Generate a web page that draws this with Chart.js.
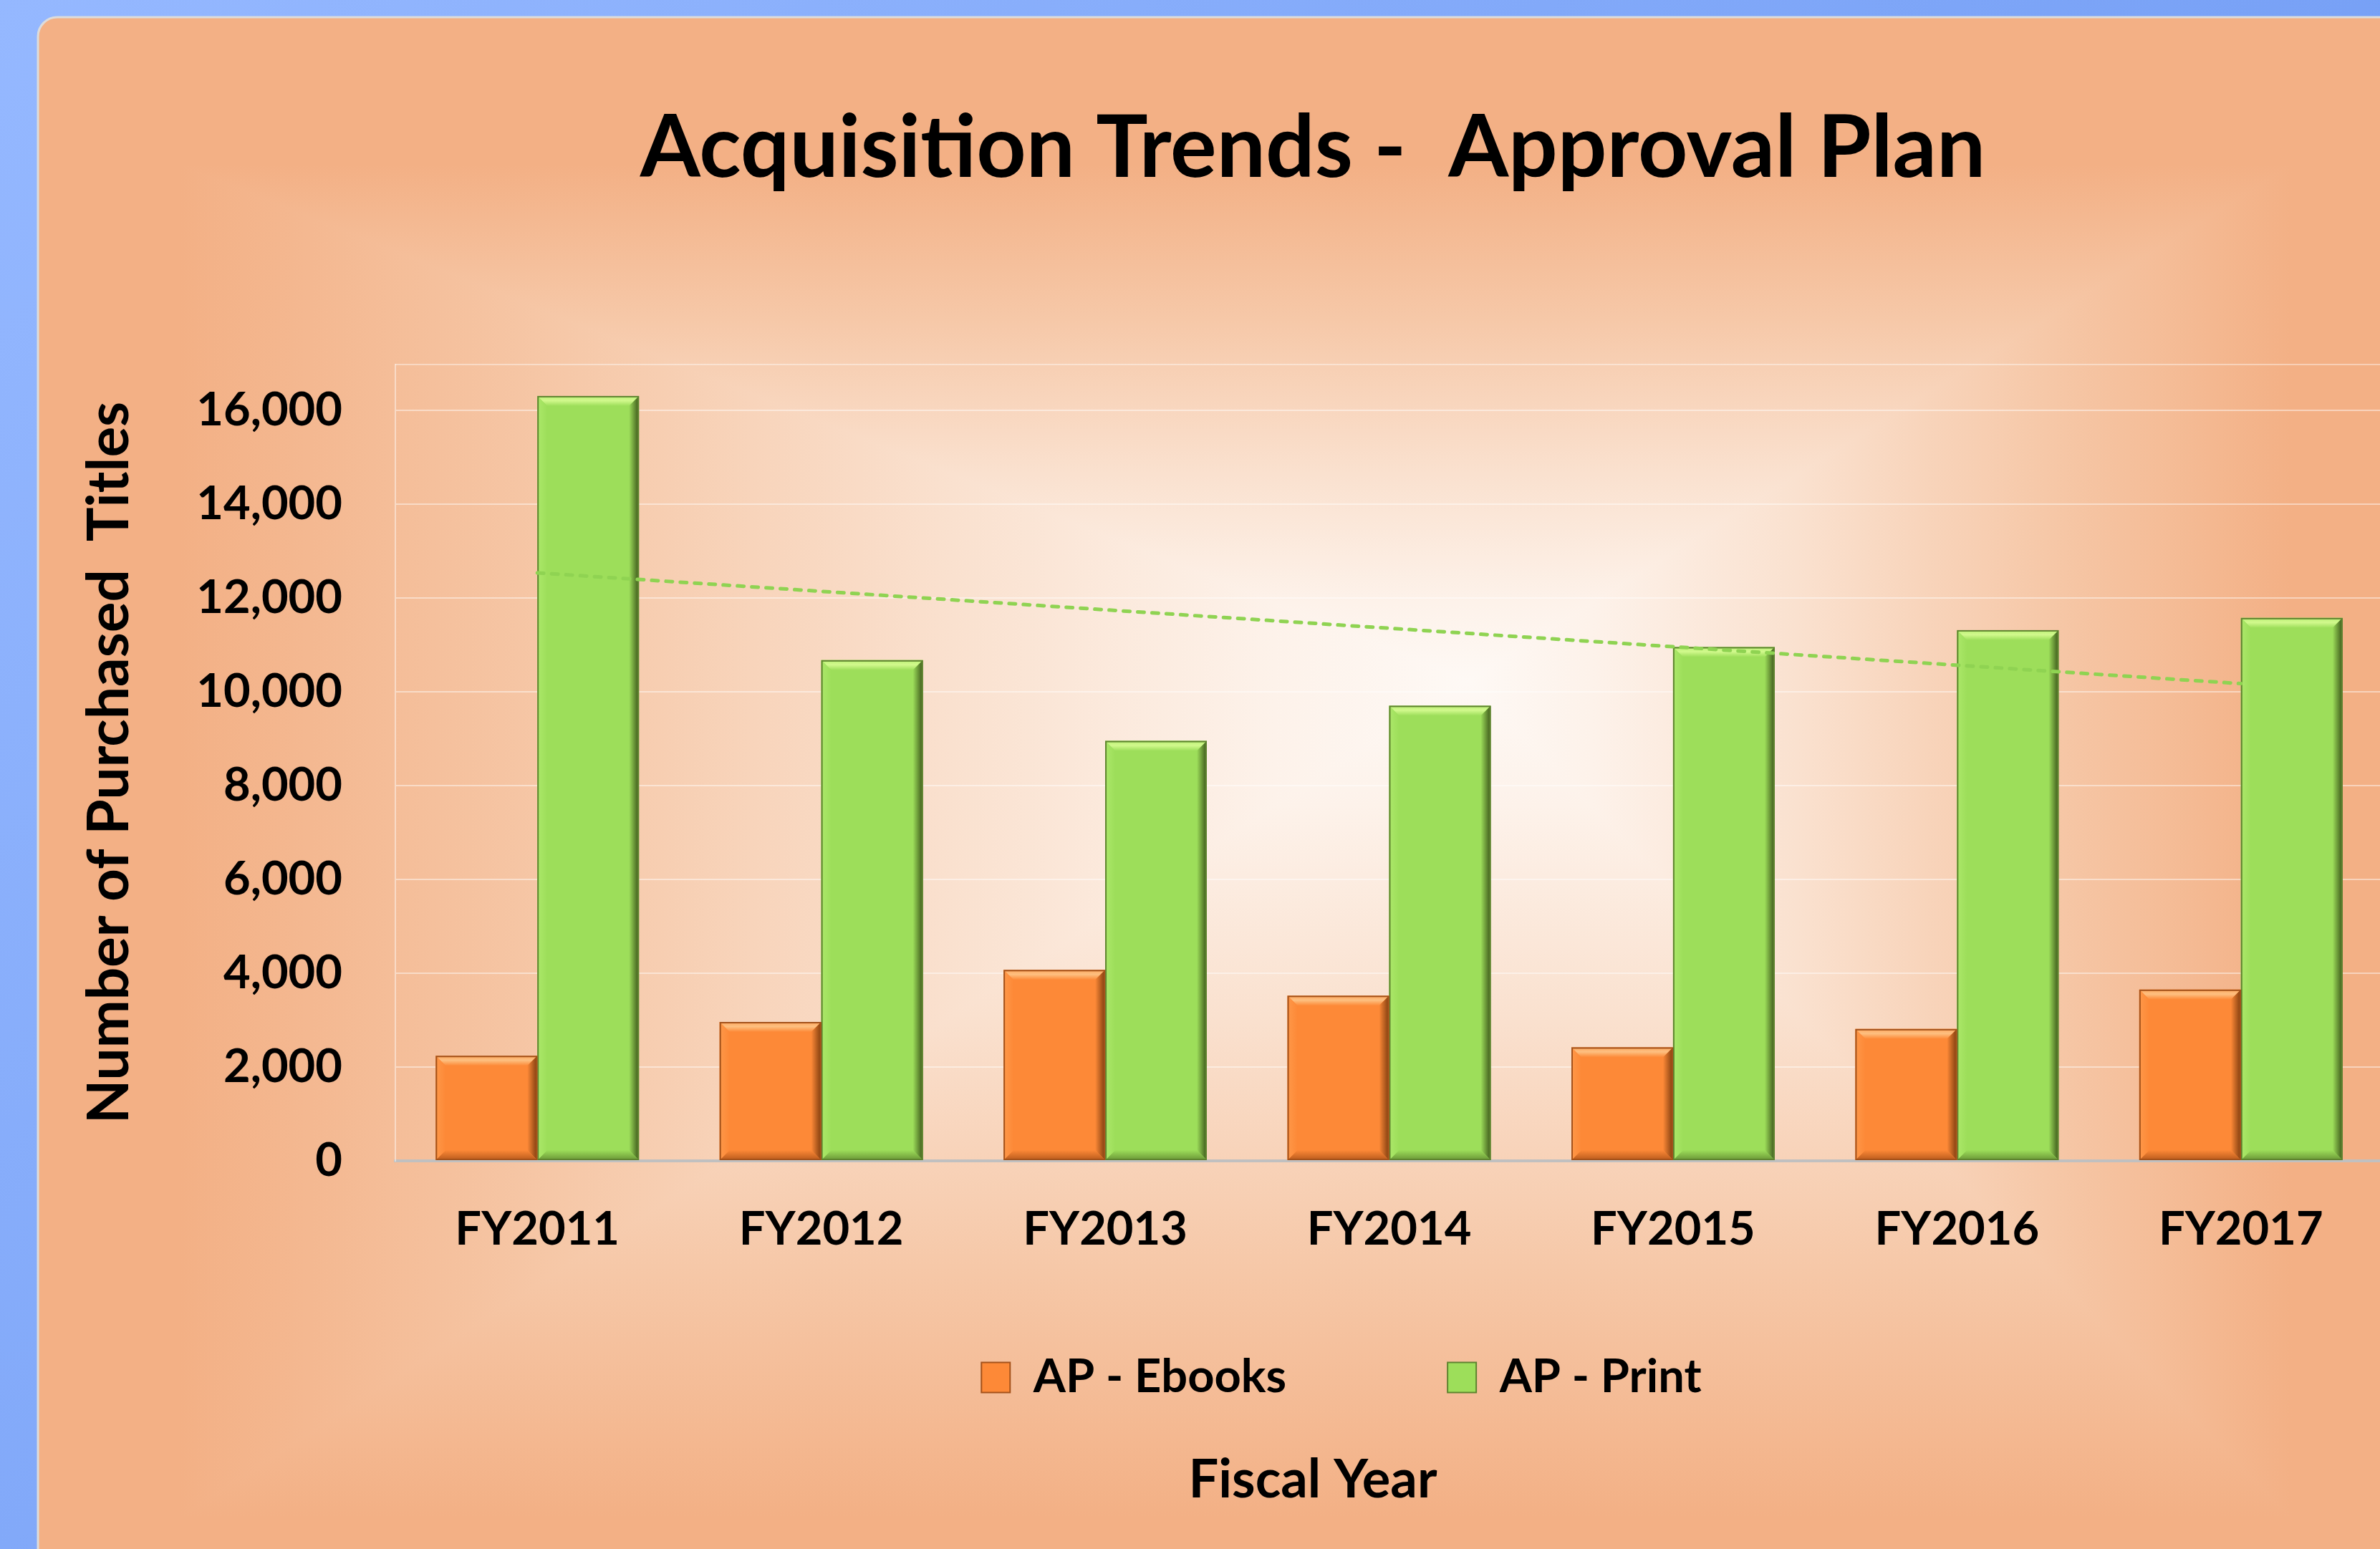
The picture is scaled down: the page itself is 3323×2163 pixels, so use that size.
<!DOCTYPE html>
<html>
<head>
<meta charset="utf-8">
<script src="https://cdn.jsdelivr.net/npm/chart.js@4.4.0/dist/chart.umd.min.js"></script>
<style>
  html, body { margin: 0; padding: 0; overflow: hidden; background: #86aefc; }
  #wrap { position: absolute; left: 0; top: 0; width: 3613px; height: 2163px; }
</style>
</head>
<body>
<div id="wrap"><canvas id="myChart" width="3613" height="2163"></canvas></div>
<script>
// Data
const years = ['FY2011', 'FY2012', 'FY2013', 'FY2014', 'FY2015', 'FY2016', 'FY2017'];
const ebooks = [2240, 2960, 4070, 3520, 2420, 2810, 3650];
const print = [16300, 10670, 8950, 9700, 10950, 11310, 11570];
// linear trendline of the print series (ends)
const printTrend = [12530, null, null, null, null, null, 10170];
const yTicks = [0, 2000, 4000, 6000, 8000, 10000, 12000, 14000, 16000];

const tones = [
    { fill: '#fd8937', light: '#fdc081', hi: '#fea65c', dark: '#7e3c0e', shade: '#b85a1c', edge: '#fe9849', line: '#a4521b' },
    { fill: '#9dde5a', light: '#d2f98d', hi: '#b9ef74', dark: '#3b5519', shade: '#6a9637', edge: '#ace86a', line: '#5e842f' },
];

Chart.defaults.font.family = 'Lato';
Chart.defaults.font.weight = 'bold';
Chart.defaults.color = '#000';

function poly(ctx, pts, fill) {
    ctx.beginPath();
    ctx.moveTo(pts[0][0], pts[0][1]);
    for (let i = 1; i < pts.length; i++) ctx.lineTo(pts[i][0], pts[i][1]);
    ctx.closePath();
    ctx.fillStyle = fill;
    ctx.fill();
}

// rectangular "from centre" gradient, like the office fill
function rectGlow(ctx, cx, cy, x0, y0, x1, y1) {
    const stops = [[0, '#fef9f5'], [0.15, '#fdf2ea'], [0.4, '#fae1cf'], [0.7, '#f6c8a8'], [1, '#f3b085']];
    const sides = [
        [[x0, y0], [x1, y0], cx, y0],
        [[x1, y0], [x1, y1], x1, cy],
        [[x1, y1], [x0, y1], cx, y1],
        [[x0, y1], [x0, y0], x0, cy],
    ];
    sides.forEach(([a, b, ex, ey]) => {
        const g = ctx.createLinearGradient(cx, cy, ex, ey);
        stops.forEach(s => g.addColorStop(s[0], s[1]));
        ctx.beginPath();
        ctx.moveTo(cx, cy);
        ctx.lineTo(a[0], a[1]);
        ctx.lineTo(b[0], b[1]);
        ctx.closePath();
        ctx.fillStyle = g;
        ctx.fill();
        ctx.strokeStyle = g;
        ctx.lineWidth = 2;
        ctx.stroke();
    });
}

const backdrop = {
    id: 'backdrop',
    beforeDraw(chart) {
        const { ctx, width, height } = chart;
        ctx.save();
        const bg = ctx.createLinearGradient(0, 0, width * 0.6, height);
        bg.addColorStop(0, '#95b8ff');
        bg.addColorStop(1, '#6f9af3');
        ctx.fillStyle = bg;
        ctx.fillRect(0, 0, width, height);

        const panel = new Path2D();
        panel.roundRect(53, 24, width + 60, height + 60, 27);
        ctx.fillStyle = '#f3b085';
        ctx.fill(panel);
        ctx.save();
        ctx.clip(panel);
        rectGlow(ctx, 2050, 950, 250, 230, 3200, 2120);
        ctx.restore();
        ctx.lineWidth = 3;
        ctx.strokeStyle = '#dcdcdc';
        ctx.stroke(panel);
        ctx.restore();
    },
    beforeDatasetsDraw(chart) {
        const { ctx, chartArea } = chart;
        ctx.save();
        ctx.strokeStyle = 'rgba(255,255,255,0.4)';
        ctx.lineWidth = 2;
        ctx.beginPath();
        ctx.moveTo(chartArea.left, chartArea.top);
        ctx.lineTo(chartArea.right, chartArea.top);
        ctx.stroke();
        ctx.restore();
    },
    afterLayout(chart) {
        // the legend sits tight under the tick labels and a bit right of centre
        const lg = chart.legend;
        lg.top -= 95;
        lg.left += 40;
        lg.right += 40;
    },
};

// bevelled bar look
const bevel = {
    id: 'bevel',
    afterDatasetDraw(chart, args) {
        const meta = args.meta;
        if (meta.type !== 'bar') return;
        const tone = tones[args.index];
        const ctx = chart.ctx;
        const s = 14;
        ctx.save();
        meta.data.forEach(bar => {
            const { x, y, base, width } = bar.getProps(['x', 'y', 'base', 'width'], true);
            const l = x - width / 2, r = x + width / 2, t = y, b = base;
            let g = ctx.createLinearGradient(0, t, 0, t + s);
            g.addColorStop(0, tone.hi);
            g.addColorStop(0.45, tone.light);
            g.addColorStop(1, tone.fill);
            poly(ctx, [[l, t], [r, t], [r - s, t + s], [l + s, t + s]], g);
            g = ctx.createLinearGradient(r - s, 0, r, 0);
            g.addColorStop(0, tone.fill);
            g.addColorStop(1, tone.dark);
            poly(ctx, [[r, t], [r, b], [r - s, b - s], [r - s, t + s]], g);
            g = ctx.createLinearGradient(0, b - s, 0, b);
            g.addColorStop(0, tone.fill);
            g.addColorStop(1, tone.shade);
            poly(ctx, [[l, b], [r, b], [r - s, b - s], [l + s, b - s]], g);
            g = ctx.createLinearGradient(l, 0, l + s, 0);
            g.addColorStop(0, tone.edge);
            g.addColorStop(1, tone.fill);
            poly(ctx, [[l, t], [l + s, t + s], [l + s, b - s], [l, b]], g);
            ctx.strokeStyle = tone.line;
            ctx.lineWidth = 2;
            ctx.strokeRect(l + 1, t + 1, width - 2, b - t - 2);
        });
        ctx.restore();
    },
};

const titleSize = 121;
const titleLH = titleSize * 1.2;

const data = {
    labels: years,
    datasets: [{
        type: 'bar',
        label: 'AP - Ebooks',
        data: ebooks,
        backgroundColor: tones[0].fill,
        borderWidth: 0,
        order: 1,
    }, {
        type: 'bar',
        label: 'AP - Print',
        data: print,
        backgroundColor: tones[1].fill,
        borderWidth: 0,
        order: 1,
    }, {
        type: 'line',
        label: 'Linear (AP - Print)',
        data: printTrend,
        borderColor: '#8fd352',
        borderWidth: 5,
        borderDash: [9, 11],
        borderCapStyle: 'round',
        pointRadius: 0,
        spanGaps: true,
        order: 0,
    }],
};

const config = {
    type: 'bar',
    data: data,
    options: {
        responsive: false,
        animation: false,
        layout: { padding: { left: 53, top: 0, right: 0, bottom: 0 } },
        datasets: {
            bar: { categoryPercentage: 0.716, barPercentage: 1.0 },
        },
        scales: {
            x: {
                grid: { display: false, drawTicks: false },
                border: { display: true, color: '#c0c0c0', width: 4 },
                ticks: { font: { size: 65 }, padding: 57, maxRotation: 0 },
                afterFit(scale) { scale.height = 140; },
            },
            y: {
                min: 0,
                max: 16970,
                afterBuildTicks(scale) { scale.ticks = yTicks.map(v => ({ value: v })); },
                grid: { color: 'rgba(255,255,255,0.45)', lineWidth: 2, drawTicks: false },
                border: { display: true, color: 'rgba(255,255,255,0.45)', width: 2 },
                ticks: {
                    font: { size: 65 },
                    padding: 74,
                    callback: v => v.toLocaleString('en-US'),
                },
                title: {
                    display: true,
                    text: 'Number of Purchased  Titles',
                    font: { size: 80 },
                    padding: { top: 52, bottom: 0 },
                },
                afterFit(scale) { scale.width = 499; },
            },
            pad: {
                type: 'linear',
                position: 'right',
                grid: { display: false },
                border: { display: false },
                ticks: { display: false },
                afterFit(scale) { scale.width = 286; },
            },
        },
        plugins: {
            title: {
                display: true,
                text: 'Acquisition Trends -  Approval Plan',
                font: { size: titleSize },
                padding: { top: 208 - titleLH / 2, bottom: 509 - 208 - titleLH / 2 },
            },
            subtitle: {
                display: true,
                position: 'bottom',
                text: 'Fiscal Year',
                font: { size: 74, weight: 'bold' },
                padding: { top: 59.6, bottom: 51.6 },
            },
            legend: {
                position: 'bottom',
                maxHeight: 202,
                labels: {
                    font: { size: 65 },
                    boxWidth: 40,
                    boxHeight: 42,
                    padding: 225,
                    generateLabels(chart) {
                        const items = Chart.defaults.plugins.legend.labels.generateLabels(chart);
                        return items.filter(i => i.datasetIndex < 2).map(i => Object.assign(i, {
                            lineWidth: 2,
                            strokeStyle: tones[i.datasetIndex].line,
                        }));
                    },
                },
            },
            tooltip: { enabled: false },
        },
    },
    plugins: [backdrop, bevel],
};

document.fonts.load('bold 65px Lato').finally(() => {
    const ctx = document.getElementById('myChart').getContext('2d');
    new Chart(ctx, config);
});
</script>
</body>
</html>
